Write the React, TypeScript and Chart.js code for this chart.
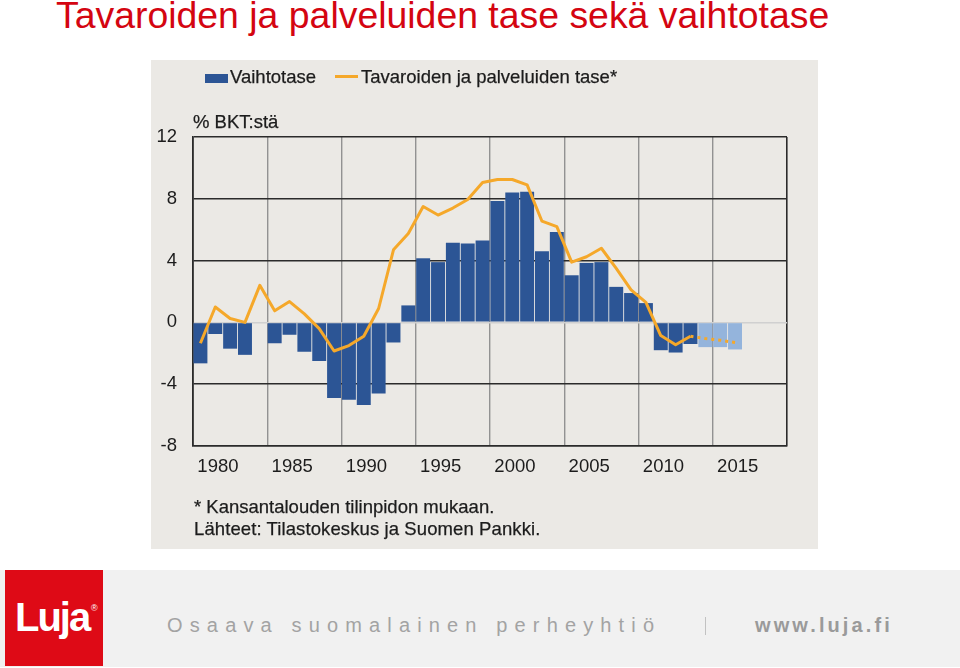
import React, { useEffect, useRef } from "react";
import { Chart, registerables } from "chart.js";

Chart.register(...registerables);

// ---------- data ----------
const YEARS = [
  "1980", "1981", "1982", "1983", "1984", "1985", "1986", "1987", "1988", "1989",
  "1990", "1991", "1992", "1993", "1994", "1995", "1996", "1997", "1998", "1999",
  "2000", "2001", "2002", "2003", "2004", "2005", "2006", "2007", "2008", "2009",
  "2010", "2011", "2012", "2013", "2014", "2015", "2016", "2017", "2018", "2019",
];

// Vaihtotase, % BKT:stä (2014–2016 ennuste)
const CURRENT_ACCOUNT: (number | null)[] = [
  -2.65, -0.75, -1.7, -2.1, 0.0, -1.35, -0.8, -1.9, -2.5, -4.9,
  -5.0, -5.35, -4.6, -1.3, 1.1, 4.15, 3.9, 5.15, 5.1, 5.3,
  7.85, 8.4, 8.45, 4.6, 5.85, 3.05, 3.85, 3.9, 2.3, 1.9,
  1.25, -1.8, -1.95, -1.4, -1.6, -1.6, -1.75, null, null, null,
];

// Tavaroiden ja palveluiden tase, % BKT:stä
const GOODS_SERVICES: (number | null)[] = [
  -1.35, 1.0, 0.25, 0.0, 2.4, 0.75, 1.35, 0.55, -0.4, -1.85,
  -1.5, -0.9, 0.9, 4.7, 5.75, 7.5, 6.95, 7.4, 7.95, 9.05,
  9.25, 9.25, 8.9, 6.55, 6.2, 3.9, 4.25, 4.8, 3.5, 2.1,
  1.3, -0.85, -1.45, -0.9, -1.05, -1.15, -1.3, null, null, null,
];

const FORECAST_YEARS = ["2014", "2015", "2016"];
const X_TICK_LABELS = ["1980", "1985", "1990", "1995", "2000", "2005", "2010", "2015"];
const Y_TICKS = [-8, -4, 0, 4, 8, 12];

const LEGEND_LABELS = ["Vaihtotase", "Tavaroiden ja palveluiden tase*"];
const UNIT_LABEL = "% BKT:stä";
const NOTES = ["* Kansantalouden tilinpidon mukaan.", "Lähteet: Tilastokeskus ja Suomen Pankki."];
const PAGE_TITLE = "Tavaroiden ja palveluiden tase sekä vaihtotase";
const FOOTER_SLOGAN = "Osaava suomalainen perheyhtiö";
const FOOTER_URL = "www.luja.fi";

// ---------- styles ----------
const FONT = "'Liberation Sans', Arial, Helvetica, sans-serif";
const DARK_BLUE = "#2c5595";
const LIGHT_BLUE = "#94b4dc";
const ORANGE = "#f5a82a";
const PANEL_BG = "#ebe9e5";
const DARK_GRID = "#2b2b2b";
const GREY_GRID = "#929292";
const TEXT = "#1c1c1c";

function Txt(props: {
  x: number;
  baseline: number;
  size: number;
  color: string;
  weight?: string | number;
  spacing?: number;
  stroke?: number;
  children: React.ReactNode;
}) {
  const { x, baseline, size, color, weight, spacing, stroke, children } = props;
  return (
    <div
      style={{
        position: "absolute",
        left: x,
        top: baseline - 0.8465 * size,
        fontFamily: FONT,
        fontSize: size,
        lineHeight: `${size}px`,
        color,
        fontWeight: weight ?? "normal",
        letterSpacing: spacing ?? 0,
        whiteSpace: "nowrap",
        WebkitTextStroke: stroke ? `${stroke}px ${color}` : undefined,
      }}
    >
      {children}
    </div>
  );
}

function ChartPanel() {
  const ref = useRef<HTMLCanvasElement | null>(null);

  useEffect(() => {
    if (!ref.current) return;
    const forecastStartIdx = YEARS.indexOf(FORECAST_YEARS[0]);
    const barColors = YEARS.map((y) => (FORECAST_YEARS.includes(y) ? LIGHT_BLUE : DARK_BLUE));

    const chart = new Chart(ref.current, {
      type: "bar",
      data: {
        labels: YEARS,
        datasets: [
          {
            type: "line",
            label: LEGEND_LABELS[1],
            data: GOODS_SERVICES,
            borderColor: ORANGE,
            backgroundColor: ORANGE,
            borderWidth: 3,
            pointRadius: 0,
            tension: 0,
            borderJoinStyle: "round",
            order: 0,
            segment: {
              borderDash: (ctx: any) => (ctx.p0DataIndex >= forecastStartIdx - 1 ? [3, 4] : undefined),
            },
          } as any,
          {
            type: "bar",
            label: LEGEND_LABELS[0],
            data: CURRENT_ACCOUNT,
            backgroundColor: barColors,
            borderWidth: 0,
            barPercentage: 0.94,
            categoryPercentage: 1,
            order: 1,
          },
        ],
      },
      options: {
        animation: false,
        responsive: false,
        maintainAspectRatio: false,
        devicePixelRatio: 1,
        layout: { padding: { top: 77, right: 31, left: 0, bottom: 0 } },
        plugins: {
          legend: { display: false },
          title: { display: false },
          tooltip: { enabled: false },
        },
        scales: {
          x: {
            type: "category",
            offset: true,
            grid: {
              offset: true,
              drawTicks: false,
              color: (ctx: any) => {
                if (ctx.index === undefined || ctx.index === 0) return DARK_GRID;
                return ctx.index % 5 === 0 ? GREY_GRID : "rgba(0,0,0,0)";
              },
              lineWidth: (ctx: any) => (ctx.index === undefined || ctx.index === 0 ? 1.6 : 1.4),
            },
            border: { display: true, color: DARK_GRID, width: 1.6 },
            ticks: {
              autoSkip: false,
              maxRotation: 0,
              minRotation: 0,
              padding: 10,
              labelOffset: 17.5,
              color: TEXT,
              font: { family: FONT, size: 18.5 },
              callback: (_v: any, index: number) =>
                X_TICK_LABELS.includes(YEARS[index]) ? YEARS[index] : "",
            },
            afterFit: (scale: any) => {
              scale.height = 103;
            },
          },
          y: {
            type: "linear",
            min: Y_TICKS[0],
            max: Y_TICKS[Y_TICKS.length - 1],
            afterBuildTicks: (scale: any) => {
              scale.ticks = Y_TICKS.map((v) => ({ value: v }));
            },
            grid: {
              drawTicks: false,
              color: (ctx: any) => (ctx.tick && ctx.tick.value === 0 ? "#d0d0d0" : DARK_GRID),
              lineWidth: 1.6,
            },
            border: { display: true, color: DARK_GRID, width: 1.6 },
            ticks: {
              padding: 16,
              color: TEXT,
              font: { family: FONT, size: 18.5 },
              callback: (v: any) => String(v),
            },
            afterFit: (scale: any) => {
              scale.width = 42;
            },
          },
        },
      } as any,
    });
    return () => chart.destroy();
  }, []);

  return (
    <canvas
      ref={ref}
      width={667}
      height={489}
      style={{ position: "absolute", left: 0, top: 0, width: 667, height: 489 }}
    />
  );
}

export default function App() {
  return (
    <div
      style={{
        position: "absolute",
        left: 0,
        top: 0,
        width: 960,
        height: 668,
        background: "#ffffff",
        overflow: "hidden",
      }}
    >
      <Txt x={56} baseline={29} size={37.4} color="#d40511">
        {PAGE_TITLE}
      </Txt>

      {/* chart panel */}
      <div
        style={{
          position: "absolute",
          left: 151,
          top: 60,
          width: 667,
          height: 489,
          background: PANEL_BG,
        }}
      >
        <ChartPanel />
        {/* legend */}
        <div
          style={{ position: "absolute", left: 54, top: 13.5, width: 23, height: 9.5, background: DARK_BLUE }}
        />
        <Txt x={79} baseline={23.3} size={18.5} color={TEXT} stroke={0.25}>
          {LEGEND_LABELS[0]}
        </Txt>
        <div
          style={{ position: "absolute", left: 184, top: 15.3, width: 23, height: 3, background: ORANGE }}
        />
        <Txt x={210} baseline={23.3} size={18.5} color={TEXT} stroke={0.25}>
          {LEGEND_LABELS[1]}
        </Txt>
        <Txt x={42} baseline={69} size={18.5} color={TEXT} stroke={0.25}>
          {UNIT_LABEL}
        </Txt>
        <Txt x={43} baseline={454} size={18.5} color={TEXT} stroke={0.25}>
          {NOTES[0]}
        </Txt>
        <Txt x={43} baseline={476} size={18.5} color={TEXT} stroke={0.25} spacing={0.1}>
          {NOTES[1]}
        </Txt>
      </div>

      {/* footer */}
      <div
        style={{ position: "absolute", left: 0, top: 570, width: 960, height: 97, background: "#f1f1f1" }}
      />
      <div
        style={{ position: "absolute", left: 5, top: 570, width: 98, height: 96, background: "#de0a16" }}
      />
      <Txt x={15} baseline={631} size={40} color="#ffffff" weight="bold" spacing={-2}>
        Luja
      </Txt>
      <Txt x={91} baseline={612} size={9} color="#ffffff">
        ®
      </Txt>
      <Txt x={167} baseline={632} size={20} color="#a3a3a3" spacing={7.15}>
        {FOOTER_SLOGAN}
      </Txt>
      <div style={{ position: "absolute", left: 705, top: 617, width: 1, height: 18, background: "#c2c2c2" }} />
      <Txt x={755} baseline={632} size={20} color="#9a9a9a" weight="bold" spacing={3.1}>
        {FOOTER_URL}
      </Txt>
    </div>
  );
}
